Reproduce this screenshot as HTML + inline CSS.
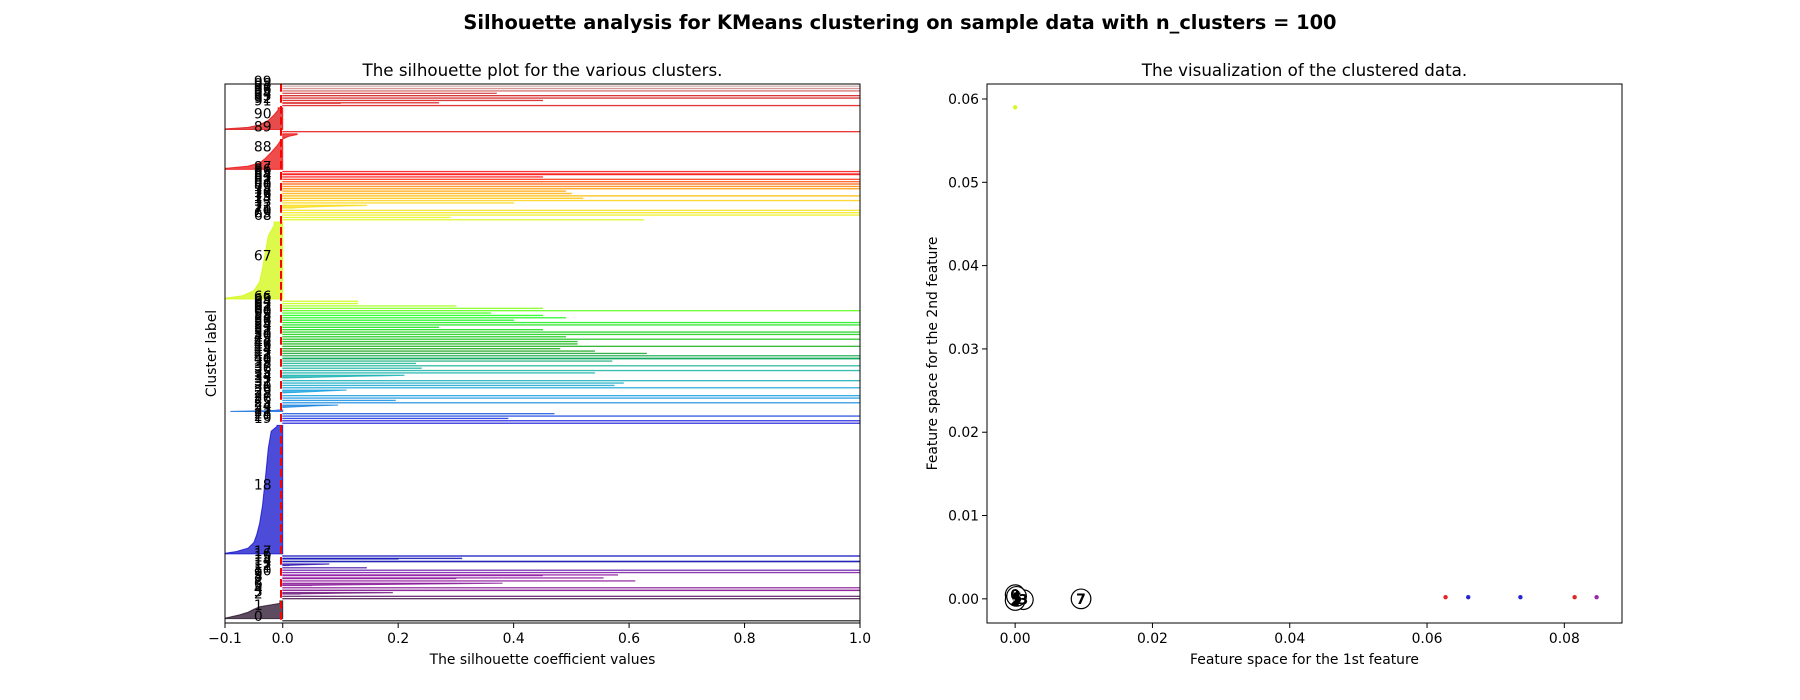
<!DOCTYPE html>
<html><head><meta charset="utf-8"><style>
html,body{margin:0;padding:0;background:#fff;}
svg{display:block;font-family:"DejaVu Sans","Liberation Sans",sans-serif;}
</style></head><body>
<svg id="fig" width="1800" height="700" viewBox="0 0 1800 700"></svg>
<script>
// ---- data: silhouette values per cluster as [value, count] runs (ascending) ----
const clusterRuns = [
 [[1.0,2]],
 [[-0.1,5],[-0.09,8],[-0.075,12],[-0.06,15],[-0.05,15],[-0.04,10],[-0.005,25]],
 [[1.0,2]],
 [[1.0,2]],
 [[0.03,3],[0.1,3],[0.19,2]],
 [[1.0,3]],
 [[1.0,2]],
 [[0.05,3],[0.15,4],[0.28,4],[0.38,2]],
 [[0.61,2]],
 [[0.3,3],[0.555,2]],
 [[0.45,3],[0.58,2]],
 [[1.0,2]],
 [[1.0,2]],
 [[0.145,2]],
 [[0.01,3],[0.04,3],[0.08,3]],
 [[1.0,4]],
 [[0.2,3],[0.31,2]],
 [[1.0,2]],
 [[-0.1,6],[-0.08,12],[-0.06,22],[-0.05,35],[-0.045,45],[-0.04,70],[-0.035,110],[-0.03,170],[-0.025,130],[-0.02,40],[-0.01,10]],
 [[1.0,2]],
 [[1.0,2]],
 [[0.39,2]],
 [[1.0,2]],
 [[0.47,2]],
 [[-0.09,2],[-0.04,3],[-0.01,3]],
 [[0.0,4],[0.03,5],[0.06,4],[0.095,2]],
 [[1.0,2]],
 [[0.195,2]],
 [[1.0,2]],
 [[1.0,2]],
 [[0.0,5],[0.04,6],[0.08,5],[0.11,2]],
 [[1.0,2]],
 [[0.574,2]],
 [[0.59,2]],
 [[1.0,2]],
 [[0.0,4],[0.06,5],[0.13,5],[0.21,3]],
 [[0.54,2]],
 [[1.0,2]],
 [[0.24,2]],
 [[1.0,2]],
 [[0.23,2]],
 [[0.57,2]],
 [[1.0,5]],
 [[1.0,2]],
 [[0.63,2]],
 [[0.54,2]],
 [[0.48,2]],
 [[1.0,2]],
 [[0.51,2]],
 [[0.51,2]],
 [[1.0,2]],
 [[0.49,2]],
 [[1.0,2]],
 [[1.0,2]],
 [[0.45,2]],
 [[0.27,2]],
 [[1.0,2]],
 [[1.0,2]],
 [[0.40,2]],
 [[0.49,2]],
 [[0.45,2]],
 [[0.36,2]],
 [[1.0,2]],
 [[0.45,2]],
 [[0.30,2]],
 [[0.13,2]],
 [[0.13,2]],
 [[-0.1,8],[-0.07,17],[-0.05,35],[-0.04,55],[-0.035,80],[-0.03,90],[-0.025,70],[-0.015,35]],
 [[0.625,2]],
 [[0.29,2]],
 [[1.0,2]],
 [[1.0,2]],
 [[1.0,2]],
 [[0.02,3],[0.05,5],[0.09,3],[0.145,4]],
 [[0.40,2]],
 [[1.0,2]],
 [[0.52,2]],
 [[1.0,2]],
 [[0.50,2]],
 [[0.49,2]],
 [[1.0,2]],
 [[1.0,2]],
 [[1.0,2]],
 [[1.0,2]],
 [[1.0,2]],
 [[0.45,2]],
 [[1.0,5]],
 [[1.0,2]],
 [[-0.1,10],[-0.06,13],[-0.04,20],[-0.03,27],[-0.02,33],[-0.01,33],[-0.003,26],[0.01,10],[0.025,8]],
 [[1.0,2]],
 [[-0.1,6],[-0.06,9],[-0.04,17],[-0.025,28],[-0.015,28],[-0.008,22]],
 [[1.0,2]],
 [[0.1,2],[0.27,2]],
 [[0.45,2]],
 [[1.0,2]],
 [[1.0,2]],
 [[0.37,2]],
 [[1.0,2]],
 [[1.0,2]],
 [[1.0,2]]
];
const meanSilhouette = -0.003;
const silXTicks = [-0.1, 0.0, 0.2, 0.4, 0.6, 0.8, 1.0];
const silXTickLabels = ["\u22120.1","0.0","0.2","0.4","0.6","0.8","1.0"];
// scatter data
const pointX = [0.0000, 0.0627, 0.0660, 0.0736, 0.0815, 0.0847];
const pointY = [0.0590, 0.0002, 0.0002, 0.0002, 0.0002, 0.0002];
const pointCluster = [67, 90, 18, 18, 91, 10];
const centerX = [0.0000, 0.0001, 0.0003, 0.0012, 0.0000, 0.0002, 0.0096];
const centerY = [0.0005, 0.0000, 0.0001, -0.0001, -0.0002, 0.0003, 0.0000];
const centerLabels = ["0", "1", "5", "3", "2", "4", "7"];
const scXTicks = [0.00, 0.02, 0.04, 0.06, 0.08];
const scXTickLabels = ["0.00","0.02","0.04","0.06","0.08"];
const scYTicks = [0.00, 0.01, 0.02, 0.03, 0.04, 0.05, 0.06];
const scYTickLabels = ["0.00","0.01","0.02","0.03","0.04","0.05","0.06"];

// ---- colormap ----
const NS_R=[0,0.4667,0.5333,0,0,0,0,0,0,0,0,0,0,0.7333,0.9333,1,1,1,0.8667,0.8,0.8];
const NS_G=[0,0,0,0,0,0.4667,0.6,0.6667,0.6667,0.6,0.7333,0.8667,1,1,0.9333,0.8,0.6,0,0,0,0.8];
const NS_B=[0,0.5333,0.6,0.6667,0.8667,0.8667,0.8667,0.6667,0.5333,0,0,0,0,0,0,0,0,0,0,0,0.8];
function nipy(t){t=Math.max(0,Math.min(1,t));const f=t*20;const i=Math.min(19,Math.floor(f));const u=f-i;
 const c=a=>Math.round(255*(a[i]+(a[i+1]-a[i])*u));return `rgb(${c(NS_R)},${c(NS_G)},${c(NS_B)})`;}

const NS='http://www.w3.org/2000/svg';
const svg=document.getElementById('fig');
function mk(tag,attrs,parent){const e=document.createElementNS(NS,tag);for(const k in attrs)e.setAttribute(k,attrs[k]);(parent||svg).appendChild(e);return e;}
function txt(s,attrs,parent){const e=mk('text',attrs,parent);e.textContent=s;return e;}

const sup=txt("Silhouette analysis for KMeans clustering on sample data with n_clusters = 100",{x:900,y:29,'text-anchor':'middle','font-size':'19.4px','font-weight':'bold',fill:'#000'});



// ---- silhouette axes ----
const L={x0:225,x1:860,y0:84,y1:623};
const sx=v=>L.x0+(v-(-0.1))/(1.1)*(L.x1-L.x0);
let yTotal=10;clusterRuns.forEach(r=>{r.forEach(p=>yTotal+=p[1]);yTotal+=10;});
const sy=v=>L.y1-v/yTotal*(L.y1-L.y0);
const gSil=mk('g',{});


const clip=mk('clipPath',{id:'clipL'});mk('rect',{x:L.x0,y:L.y0,width:L.x1-L.x0,height:L.y1-L.y0},clip);
const gBars=mk('g',{'clip-path':'url(#clipL)'},gSil);
let yLower=10;
clusterRuns.forEach((runs,i)=>{
  let size=0;runs.forEach(p=>size+=p[1]);
  let pts=[[sx(0),sy(yLower)]];let y=yLower;
  if(runs.length>2){
    // smooth profile: first run bottom, midpoints, last run top
    pts.push([sx(runs[0][0]),sy(y)]);
    runs.forEach(p=>{pts.push([sx(p[0]),sy(y+p[1]/2)]);y+=p[1];});
    pts.push([sx(runs[runs.length-1][0]),sy(y)]);
  } else {
    runs.forEach(p=>{pts.push([sx(p[0]),sy(y)]);y+=p[1];pts.push([sx(p[0]),sy(y)]);});
  }
  pts.push([sx(0),sy(y)]);
  const col=nipy(i/100);
  const poly=mk('polygon',{points:pts.map(q=>q[0].toFixed(2)+','+q[1].toFixed(2)).join(' '),fill:col,'fill-opacity':0.7,stroke:col,'stroke-opacity':0.7,'stroke-width':1},gBars);
  
  
  const lb=txt(String(i),{x:sx(-0.05),y:sy(yLower+0.5*size),'font-size':'13.9px',fill:'#000'},gSil);
  
  
  yLower=y+10;
});
const avg=mk('line',{x1:sx(meanSilhouette),x2:sx(meanSilhouette),y1:L.y0,y2:L.y1,stroke:'red','stroke-width':2,'stroke-dasharray':'7.7,3.3'},gSil);


const frL=mk('rect',{x:L.x0,y:L.y0,width:L.x1-L.x0,height:L.y1-L.y0,fill:'none',stroke:'#000','stroke-width':1},gSil);


silXTicks.forEach((v,k)=>{
  mk('line',{x1:sx(v),x2:sx(v),y1:L.y1,y2:L.y1+5,stroke:'#000','stroke-width':1},gSil);
  const t=txt(silXTickLabels[k],{x:sx(v),y:L.y1+20,'text-anchor':'middle','font-size':'13.9px'},gSil);
  
  
});
const lt=txt("The silhouette plot for the various clusters.",{x:(L.x0+L.x1)/2,y:76,'text-anchor':'middle','font-size':'16.7px'},gSil);


const lx=txt("The silhouette coefficient values",{x:(L.x0+L.x1)/2,y:664,'text-anchor':'middle','font-size':'13.9px'},gSil);


const ly=txt("Cluster label",{x:0,y:0,'text-anchor':'middle','font-size':'13.9px',transform:`translate(216,${(L.y0+L.y1)/2}) rotate(-90)`},gSil);



// ---- scatter axes ----
const R={x0:987,x1:1622,y0:84,y1:623};
const xmin=-0.0041,xmax=0.0884,ymin=-0.0029,ymax=0.0618;
const px=v=>R.x0+(v-xmin)/(xmax-xmin)*(R.x1-R.x0);
const py=v=>R.y1-(v-ymin)/(ymax-ymin)*(R.y1-R.y0);
const gSc=mk('g',{});


pointX.forEach((v,k)=>{
  const c=mk('circle',{cx:px(v),cy:py(pointY[k]),r:2.2,fill:nipy(pointCluster[k]/100),'fill-opacity':0.85},gSc);
  
  
});
centerX.forEach((v,k)=>{
  const c=mk('circle',{cx:px(v),cy:py(centerY[k]),r:9.8,fill:'#fff',stroke:'#000','stroke-width':1.2},gSc);
  
  
});
centerX.forEach((v,k)=>{
  const t=txt(centerLabels[k],{x:px(v),y:py(centerY[k])+5,'text-anchor':'middle','font-size':'14px','font-weight':'bold',fill:'#000'},gSc);
  
  
});
const frR=mk('rect',{x:R.x0,y:R.y0,width:R.x1-R.x0,height:R.y1-R.y0,fill:'none',stroke:'#000','stroke-width':1},gSc);


scXTicks.forEach((v,k)=>{
  mk('line',{x1:px(v),x2:px(v),y1:R.y1,y2:R.y1+5,stroke:'#000','stroke-width':1},gSc);
  const t=txt(scXTickLabels[k],{x:px(v),y:R.y1+20,'text-anchor':'middle','font-size':'13.9px'},gSc);
  
  
});
scYTicks.forEach((v,k)=>{
  mk('line',{x1:R.x0-5,x2:R.x0,y1:py(v),y2:py(v),stroke:'#000','stroke-width':1},gSc);
  const t=txt(scYTickLabels[k],{x:R.x0-8,y:py(v)+5,'text-anchor':'end','font-size':'13.9px'},gSc);
  
  
});
const rt=txt("The visualization of the clustered data.",{x:(R.x0+R.x1)/2,y:76,'text-anchor':'middle','font-size':'16.7px'},gSc);


const rx=txt("Feature space for the 1st feature",{x:(R.x0+R.x1)/2,y:664,'text-anchor':'middle','font-size':'13.9px'},gSc);


const ry=txt("Feature space for the 2nd feature",{x:0,y:0,'text-anchor':'middle','font-size':'13.9px',transform:`translate(937,${(R.y0+R.y1)/2}) rotate(-90)`},gSc);


</script>
</body></html>
